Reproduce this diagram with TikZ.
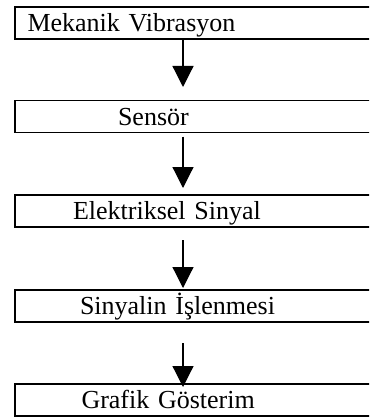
\documentclass[tikz,border=0pt]{standalone}
\usepackage{fontspec}
\setmainfont{Liberation Serif}
\usetikzlibrary{arrows.meta}

\begin{document}
\begin{tikzpicture}[x=1pt,y=-1pt,
        stage/.style={draw, line width=1.8pt, outer sep=0pt, anchor=north west,
                align=left, text width=360pt, inner ysep=0pt,
                text height=24.5pt, text depth=7.5pt, font=\fontsize{26}{30}\selectfont},
        flow/.style={line width=1.2pt, -{Triangle[length=21pt,width=21pt]}}]
        \clip (0,0) rectangle (369,417);
        \coordinate (ax) at (183,0);
        \node[stage, inner xsep=12.5pt] (b1) at (15,7) {Mekanik Vibrasyon};
        \node[stage, inner xsep=103pt] (b2) at (15,100.5) {Sensör};
        \node[stage, inner xsep=58pt] (b3) at (15,195) {Elektriksel Sinyal};
        \node[stage, inner xsep=65pt] (b4) at (15,290) {Sinyalin İşlenmesi};
        \node[stage, inner xsep=66.5pt] (b5) at (15,384) {Grafik Gösterim};
        \draw[flow, shorten >=13.5pt] (b1.south -| ax) -- (b2.north -| ax);
        \draw[flow, shorten <=4pt, shorten >=7pt] (b2.south -| ax) -- (b3.north -| ax);
        \draw[flow, shorten <=13pt, shorten >=2pt] (b3.south -| ax) -- (b4.north -| ax);
        \draw[flow, shorten <=21pt, shorten >=-3pt] (b4.south -| ax) -- (b5.north -| ax);
        \end{tikzpicture}
\end{document}
